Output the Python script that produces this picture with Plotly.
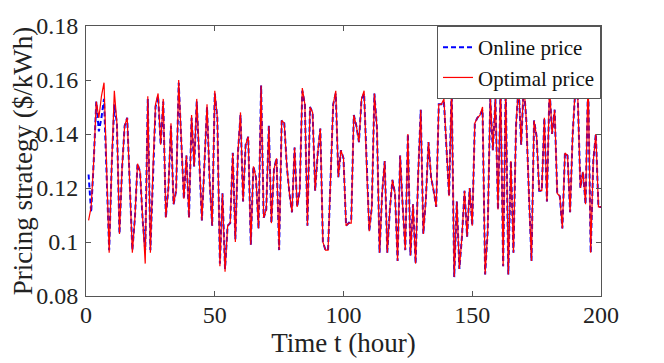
import plotly.graph_objects as go

# hourly prices ($/kWh)
hours = list(range(1, 201))

optimal_price = [
    0.108, 0.113, 0.130, 0.152, 0.146, 0.154, 0.159, 0.127, 0.096, 0.129,
    0.156, 0.144, 0.103, 0.127, 0.143, 0.146, 0.120, 0.096, 0.109, 0.129,
    0.126, 0.108, 0.092, 0.154, 0.096, 0.127, 0.151, 0.155, 0.136, 0.153,
    0.109, 0.120, 0.144, 0.114, 0.119, 0.160, 0.135, 0.116, 0.132, 0.109,
    0.147, 0.128, 0.153, 0.128, 0.108, 0.129, 0.151, 0.123, 0.106, 0.156,
    0.146, 0.091, 0.118, 0.089, 0.106, 0.107, 0.133, 0.100, 0.133, 0.148,
    0.115, 0.136, 0.139, 0.099, 0.128, 0.124, 0.105, 0.158, 0.109, 0.112,
    0.143, 0.107, 0.127, 0.131, 0.097, 0.145, 0.144, 0.128, 0.118, 0.111,
    0.135, 0.113, 0.119, 0.157, 0.151, 0.106, 0.150, 0.148, 0.119, 0.133,
    0.142, 0.100, 0.097, 0.097, 0.123, 0.151, 0.156, 0.124, 0.134, 0.131,
    0.106, 0.107, 0.107, 0.147, 0.143, 0.137, 0.153, 0.156, 0.127, 0.104,
    0.113, 0.155, 0.142, 0.096, 0.118, 0.130, 0.096, 0.112, 0.123, 0.118,
    0.093, 0.132, 0.113, 0.097, 0.140, 0.095, 0.114, 0.092, 0.125, 0.149,
    0.103, 0.116, 0.137, 0.124, 0.119, 0.113, 0.151, 0.151, 0.153, 0.133,
    0.117, 0.158, 0.087, 0.115, 0.090, 0.102, 0.119, 0.102, 0.120, 0.106,
    0.144, 0.146, 0.147, 0.150, 0.088, 0.104, 0.154, 0.134, 0.153, 0.112,
    0.158, 0.091, 0.158, 0.088, 0.130, 0.096, 0.143, 0.159, 0.136, 0.159,
    0.145, 0.118, 0.093, 0.145, 0.139, 0.119, 0.119, 0.146, 0.115, 0.158,
    0.140, 0.149, 0.118, 0.117, 0.105, 0.133, 0.132, 0.111, 0.140, 0.157,
    0.153, 0.120, 0.126, 0.114, 0.162, 0.096, 0.130, 0.140, 0.113, 0.113,
]

online_price = [
    0.125, 0.111, 0.130, 0.152, 0.141, 0.146, 0.153, 0.127, 0.097, 0.129,
    0.151, 0.144, 0.103, 0.127, 0.143, 0.146, 0.120, 0.097, 0.109, 0.129,
    0.126, 0.108, 0.097, 0.153, 0.097, 0.127, 0.150, 0.154, 0.136, 0.152,
    0.109, 0.120, 0.143, 0.114, 0.119, 0.159, 0.135, 0.116, 0.132, 0.109,
    0.146, 0.128, 0.152, 0.128, 0.108, 0.129, 0.150, 0.123, 0.106, 0.155,
    0.146, 0.092, 0.118, 0.090, 0.106, 0.107, 0.133, 0.101, 0.133, 0.147,
    0.115, 0.136, 0.139, 0.099, 0.128, 0.124, 0.105, 0.158, 0.109, 0.112,
    0.143, 0.107, 0.127, 0.131, 0.097, 0.145, 0.144, 0.128, 0.118, 0.111,
    0.135, 0.113, 0.119, 0.156, 0.151, 0.106, 0.150, 0.148, 0.119, 0.133,
    0.142, 0.100, 0.097, 0.097, 0.123, 0.151, 0.155, 0.124, 0.134, 0.131,
    0.106, 0.107, 0.108, 0.147, 0.143, 0.137, 0.153, 0.155, 0.127, 0.104,
    0.113, 0.155, 0.142, 0.096, 0.118, 0.130, 0.096, 0.112, 0.123, 0.118,
    0.093, 0.132, 0.113, 0.097, 0.140, 0.095, 0.114, 0.092, 0.125, 0.149,
    0.103, 0.116, 0.137, 0.124, 0.119, 0.113, 0.151, 0.151, 0.152, 0.133,
    0.117, 0.158, 0.087, 0.115, 0.090, 0.102, 0.119, 0.102, 0.120, 0.106,
    0.144, 0.146, 0.147, 0.149, 0.088, 0.104, 0.153, 0.134, 0.153, 0.112,
    0.157, 0.091, 0.158, 0.088, 0.130, 0.096, 0.143, 0.158, 0.136, 0.158,
    0.145, 0.118, 0.093, 0.145, 0.139, 0.119, 0.119, 0.146, 0.115, 0.157,
    0.140, 0.149, 0.118, 0.117, 0.105, 0.133, 0.132, 0.111, 0.140, 0.156,
    0.153, 0.120, 0.126, 0.114, 0.160, 0.096, 0.130, 0.140, 0.113, 0.113,
]

x_ticks = [0, 50, 100, 150, 200]
y_ticks = [0.08, 0.10, 0.12, 0.14, 0.16, 0.18]
y_tick_text = ['0.08', '0.1', '0.12', '0.14', '0.16', '0.18']

serif = 'Liberation Serif'

fig = go.Figure()
fig.add_trace(go.Scatter(x=hours, y=online_price, mode='lines',
                         name='Online price',
                         line=dict(color='#0000ff', width=2, dash='5px,3px')))
fig.add_trace(go.Scatter(x=hours, y=optimal_price, mode='lines',
                         name='Optimal price',
                         line=dict(color='#ff0000', width=1.2)))

axis_style = dict(showline=True, linecolor='#555555', linewidth=1,
                  mirror='allticks', ticks='inside', ticklen=5,
                  tickcolor='#555555', showgrid=False, zeroline=False,
                  automargin=False,
                  tickfont=dict(family=serif, size=24, color='#222222'))

fig.update_xaxes(range=[0, 200], tickvals=x_ticks, ticklabelstandoff=-3,
                 title=dict(text='Time t (hour)', standoff=0,
                            font=dict(family=serif, size=27, color='#222222')),
                 **axis_style)
fig.update_yaxes(range=[0.08, 0.18], tickvals=y_ticks, ticktext=y_tick_text,
                 ticklabelstandoff=2,
                 title=dict(text='Pricing strategy ($/kWh)', standoff=0,
                            font=dict(family=serif, size=27, color='#222222')),
                 **axis_style)

# the page adds an 8px body margin, so the figure is 8px smaller than the window
fig.update_layout(width=656, height=355,
                  margin=dict(l=78, r=63, t=18, b=67),
                  plot_bgcolor='white', paper_bgcolor='white',
                  showlegend=True,
                  legend=dict(x=1, y=1, xanchor='right', yanchor='top',
                              bgcolor='white', bordercolor='#555555',
                              borderwidth=1, tracegroupgap=0,
                              font=dict(family=serif, size=21, color='#111111')))

fig.write_html("out.html")
